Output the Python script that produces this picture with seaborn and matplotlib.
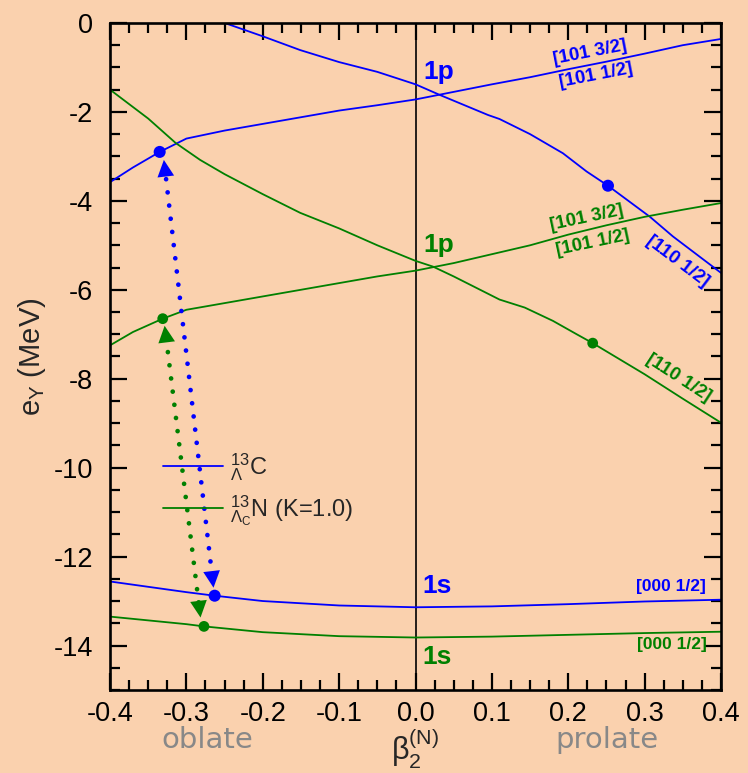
import numpy as np
import pandas as pd
import matplotlib
matplotlib.use("Agg")
import matplotlib.pyplot as plt
import seaborn as sns
from matplotlib.ticker import MultipleLocator, FormatStrFormatter

# ---------------- data ----------------
C_1p_up_beta = [-0.4, -0.37, -0.335, -0.3, -0.25, -0.2, -0.15, -0.1, -0.05, 0.0, 0.05, 0.1, 0.15, 0.2, 0.25, 0.3, 0.35, 0.4]
C_1p_up_e = [-3.58, -3.25, -2.9, -2.6, -2.42, -2.27, -2.12, -1.97, -1.85, -1.72, -1.55, -1.38, -1.22, -1.04, -0.87, -0.69, -0.5, -0.36]

C_1p_dn_beta = [-0.25, -0.2, -0.151, -0.1, -0.05, 0.0, 0.032, 0.095, 0.11, 0.15, 0.193, 0.224, 0.252, 0.307, 0.337, 0.4]
C_1p_dn_e = [0.0, -0.3, -0.61, -0.88, -1.1, -1.38, -1.62, -2.07, -2.16, -2.5, -2.93, -3.34, -3.66, -4.36, -4.8, -5.62]

N_1p_dn_beta = [-0.4, -0.35, -0.314, -0.282, -0.25, -0.2, -0.151, -0.1, -0.05, 0.0, 0.023, 0.05, 0.11, 0.143, 0.18, 0.211, 0.232, 0.3, 0.35, 0.4]
N_1p_dn_e = [-1.5, -2.15, -2.7, -3.08, -3.4, -3.85, -4.27, -4.62, -5.0, -5.35, -5.48, -5.7, -6.22, -6.4, -6.7, -7.0, -7.2, -7.9, -8.45, -8.99]

N_1p_up_beta = [-0.4, -0.37, -0.331, -0.3, -0.25, -0.2, -0.15, -0.1, -0.05, 0.0, 0.05, 0.1, 0.15, 0.2, 0.25, 0.3, 0.35, 0.4]
N_1p_up_e = [-7.25, -6.95, -6.65, -6.45, -6.3, -6.15, -6.0, -5.85, -5.7, -5.57, -5.4, -5.2, -5.0, -4.76, -4.55, -4.36, -4.2, -4.05]

C_1s_beta = [-0.4, -0.3, -0.263, -0.2, -0.1, 0.0, 0.1, 0.2, 0.3, 0.4]
C_1s_e = [-12.56, -12.8, -12.88, -13.0, -13.1, -13.14, -13.12, -13.07, -13.01, -12.97]

N_1s_beta = [-0.4, -0.3, -0.277, -0.2, -0.1, 0.0, 0.1, 0.2, 0.3, 0.4]
N_1s_e = [-13.35, -13.52, -13.57, -13.7, -13.79, -13.82, -13.8, -13.76, -13.72, -13.69]

# marked states (dots)
C_dot_beta = [-0.335, 0.252, -0.263]
C_dot_e = [-2.9, -3.66, -12.88]
N_dot_beta = [-0.331, 0.232, -0.277]
N_dot_e = [-6.65, -7.2, -13.57]

# transitions (tips of dotted double arrows: upper, lower)
C_arrow_beta = [-0.3295, -0.2645]
C_arrow_e = [-3.08, -12.70]
N_arrow_beta = [-0.3285, -0.2815]
N_arrow_e = [-6.81, -13.37]

BLUE = "#0000FF"
GREEN = "#008000"
BG = "#FAD1AE"

# ---------------- style ----------------
sns.set_theme(style="ticks")
plt.rcParams["font.family"] = ["Liberation Sans", "DejaVu Sans"]
plt.rcParams["mathtext.fontset"] = "custom"
plt.rcParams["mathtext.rm"] = "Liberation Sans"
plt.rcParams["mathtext.it"] = "Liberation Sans:italic"
plt.rcParams["mathtext.bf"] = "Liberation Sans:bold"

fig = plt.figure(figsize=(7.48, 7.73), dpi=100, facecolor=BG)
ax = fig.add_axes([0.1471, 0.1074, 0.8168, 0.8629])
ax.set_facecolor(BG)

curves = [
    (C_1p_up_beta, C_1p_up_e, BLUE, r"${}^{13}_{\Lambda}$C"),
    (C_1p_dn_beta, C_1p_dn_e, BLUE, None),
    (C_1s_beta, C_1s_e, BLUE, None),
    (N_1p_up_beta, N_1p_up_e, GREEN, r"${}^{13}_{\Lambda_\mathrm{C}}$N (K=1.0)"),
    (N_1p_dn_beta, N_1p_dn_e, GREEN, None),
    (N_1s_beta, N_1s_e, GREEN, None),
]
for bx, ey, col, lab in curves:
    df = pd.DataFrame({"beta": bx, "e": ey})
    sns.lineplot(data=df, x="beta", y="e", color=col, lw=1.3, sort=False,
                 estimator=None, label=lab, ax=ax, clip_on=True)

# dots
sns.scatterplot(x=C_dot_beta, y=C_dot_e, color=BLUE, s=75, edgecolor="none", ax=ax, zorder=5)
sns.scatterplot(x=N_dot_beta, y=N_dot_e, color=GREEN, s=60, edgecolor="none", ax=ax, zorder=5)

# dotted transition arrows
def dotted_arrow(bx, ey, col):
    (x1, x2), (y1, y2) = bx, ey
    ax.plot([x1 + (x2 - x1) * 0.045, x1 + (x2 - x1) * 0.955],
            [y1 + (y2 - y1) * 0.045, y1 + (y2 - y1) * 0.955],
            color=col, lw=3.4, linestyle=(0, (0.01, 2.8)),
            dash_capstyle="round", zorder=4)
    for tip, base in [((x1, y1), (x1 + (x2 - x1) * 0.04, y1 + (y2 - y1) * 0.04)),
                      ((x2, y2), (x2 - (x2 - x1) * 0.04, y2 - (y2 - y1) * 0.04))]:
        ax.annotate("", xy=tip, xytext=base,
                    arrowprops=dict(arrowstyle="-|>,head_length=1.2,head_width=0.6",
                                    color=col, lw=0.01, shrinkA=0, shrinkB=0),
                    size=10, zorder=4)

dotted_arrow(C_arrow_beta, C_arrow_e, BLUE)
dotted_arrow(N_arrow_beta, N_arrow_e, GREEN)

# zero line
ax.axvline(0.0, color="black", lw=1.2, zorder=1)

# axes
ax.set_xlim(-0.4, 0.4)
ax.set_ylim(-15, 0)
ax.xaxis.set_major_locator(MultipleLocator(0.1))
ax.xaxis.set_minor_locator(MultipleLocator(0.025))
ax.yaxis.set_major_locator(MultipleLocator(2))
ax.yaxis.set_minor_locator(MultipleLocator(0.5))
ax.xaxis.set_major_formatter(FormatStrFormatter("%.1f"))
ax.yaxis.set_major_formatter(FormatStrFormatter("%g"))
ax.tick_params(which="both", direction="in", top=True, right=True, color="black", width=1.6)
ax.tick_params(which="major", length=12, labelsize=19.5, labelcolor="black")
ax.tick_params(which="minor", length=7)
ax.tick_params(axis="x", which="major", pad=8)
ax.tick_params(axis="y", which="major", pad=12)
for s in ax.spines.values():
    s.set_visible(True)
    s.set_linewidth(1.9)
    s.set_color("black")

ax.set_ylabel(r"e$_\mathrm{Y}$ (MeV)", fontsize=21, labelpad=4)
ax.set_xlabel(r"$\mathrm{\beta}_2^{\mathrm{(N)}}$", fontsize=22, labelpad=0)

# state labels
lab_kw = dict(ha="center", va="center", fontweight="bold")
ax.text(0.031, -1.10, "1p", color=BLUE, fontsize=19, **lab_kw)
ax.text(0.228, -0.66, "[101 3/2]", color=BLUE, fontsize=13.5, rotation=11, **lab_kw)
ax.text(0.236, -1.18, "[101 1/2]", color=BLUE, fontsize=13.5, rotation=11, **lab_kw)
ax.text(0.343, -5.37, "[110 1/2]", color=BLUE, fontsize=13.5, rotation=-37, **lab_kw)
ax.text(0.031, -4.99, "1p", color=GREEN, fontsize=19, **lab_kw)
ax.text(0.224, -4.38, "[101 3/2]", color=GREEN, fontsize=13.5, rotation=12, **lab_kw)
ax.text(0.232, -4.94, "[101 1/2]", color=GREEN, fontsize=13.5, rotation=12, **lab_kw)
ax.text(0.345, -7.98, "[110 1/2]", color=GREEN, fontsize=13.5, rotation=-33, **lab_kw)
ax.text(0.028, -12.67, "1s", color=BLUE, fontsize=19, **lab_kw)
ax.text(0.334, -12.67, "[000 1/2]", color=BLUE, fontsize=12.5, **lab_kw)
ax.text(0.028, -14.25, "1s", color=GREEN, fontsize=19, **lab_kw)
ax.text(0.336, -13.98, "[000 1/2]", color=GREEN, fontsize=12.5, **lab_kw)

# oblate / prolate
fig.text(207 / 748, 1 - 740 / 773, "oblate", color="#888888", fontsize=21,
         family="DejaVu Sans", ha="center", va="center")
fig.text(607 / 748, 1 - 740 / 773, "prolate", color="#888888", fontsize=21,
         family="DejaVu Sans", ha="center", va="center")

# legend
leg = ax.legend(loc="upper left", bbox_to_anchor=(0.071, 0.372), frameon=False,
                fontsize=17, handlelength=2.55, handletextpad=0.3, labelspacing=0.45,
                borderaxespad=0)

fig.savefig("out.png", dpi=100, facecolor=BG)
